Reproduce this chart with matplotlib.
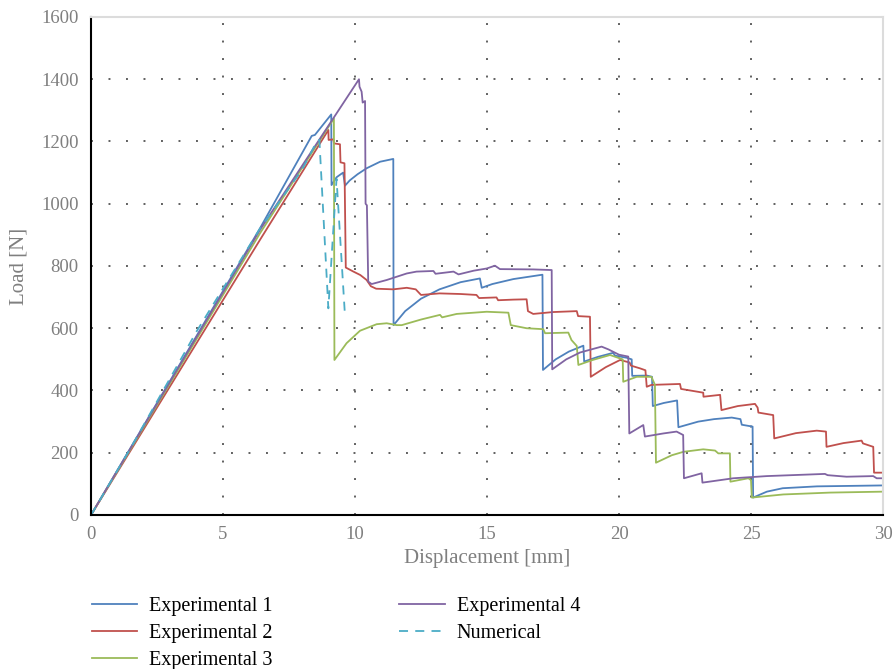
import matplotlib
matplotlib.use("Agg")
import matplotlib.pyplot as plt

plt.rcParams["font.family"] = ["Liberation Serif", "DejaVu Serif"]

# Experimental 1
exp1_x = [0, 6.4, 8.36, 8.48, 9.1, 9.11, 9.3, 9.43, 9.55, 9.62, 9.8, 10.1, 10.44, 10.95,
          11.45, 11.46, 11.9, 12.5, 13.2, 14.0, 14.73, 14.8, 15.2, 16.0, 17.1, 17.12,
          17.6, 18.1, 18.65, 18.68, 19.2, 19.78, 19.85, 20.3, 20.48, 20.5, 21.05, 21.25,
          21.28, 21.7, 22.2, 22.25, 23.0, 23.6, 24.27, 24.6, 24.65, 25.06, 25.08, 25.6,
          26.2, 27.5, 30]
exp1_y = [0, 921, 1218, 1221, 1287, 1060, 1085, 1093, 1100, 1058, 1075, 1095, 1114, 1135,
          1144, 610, 655, 695, 725, 748, 760, 730, 742, 758, 772, 466,
          500, 525, 544, 493, 508, 521, 512, 505, 500, 447, 448, 444,
          350, 360, 368, 282, 300, 308, 313, 308, 290, 284, 56, 75,
          86, 92, 95]

# Experimental 2
exp2_x = [0, 6.4, 8.99, 9.0, 9.18, 9.2, 9.43, 9.45, 9.6, 9.65, 9.94, 10.2, 10.44, 10.6,
          10.8, 11.45, 11.96, 12.3, 12.5, 13.2, 14.0, 14.6, 14.7, 15.36, 15.42, 16.0,
          16.5, 16.55, 16.75, 17.5, 18.4, 18.45, 18.9, 18.93, 19.5, 20.04, 20.4, 20.45,
          20.8, 21.0, 21.05, 21.23, 22.31, 22.35, 22.56, 23.19, 23.2, 23.83, 23.88, 24.5,
          25.15, 25.25, 25.28, 25.84, 25.88, 26.7, 27.49, 27.84, 27.86, 28.5, 29.19,
          29.24, 29.63, 29.66, 30]
exp2_y = [0, 884, 1237, 1205, 1207, 1194, 1191, 1133, 1130, 795, 782, 771, 755, 735,
          727, 725, 730, 725, 707, 712, 710, 707, 697, 699, 690, 692,
          693, 655, 646, 652, 655, 639, 637, 444, 475, 498, 490, 480,
          471, 465, 412, 418, 421, 405, 402, 393, 380, 386, 337, 350,
          357, 345, 329, 321, 246, 263, 271, 268, 219, 231, 239,
          230, 219, 136, 136]

# Experimental 3
exp3_x = [0, 6.4, 9.2, 9.22, 9.68, 10.19, 10.82, 11.2, 11.58, 11.77, 12.5, 13.22, 13.3,
          13.85, 14.99, 15.81, 15.9, 16.5, 17.13, 17.2, 18.08, 18.2, 18.4, 18.46, 19.0,
          19.66, 20.14, 20.16, 20.67, 21.23, 21.36, 21.4, 22.0, 22.44, 23.19, 23.64,
          23.76, 24.2, 24.22, 24.9, 25.0, 25.03, 26.22, 28.0, 30]
exp3_y = [0, 905, 1274, 498, 552, 592, 613, 616, 610, 610, 628, 643, 635,
          646, 653, 650, 610, 600, 597, 584, 586, 562, 543, 482, 498,
          514, 500, 428, 444, 444, 418, 168, 192, 203, 211, 207,
          198, 198, 107, 118, 112, 56, 66, 72, 75]

# Experimental 4
exp4_x = [0, 6.4, 10.15, 10.17, 10.25, 10.29, 10.38, 10.4, 10.45, 10.5, 10.63, 11.2,
          11.96, 12.33, 12.97, 13.05, 13.73, 13.92, 14.5, 14.99, 15.3, 15.49, 16.75,
          17.45, 17.47, 18.0, 18.52, 19.34, 19.6, 20.0, 20.35, 20.39, 20.92, 20.98,
          21.68, 22.18, 22.43, 22.46, 23.13, 23.16, 24.33, 25.6, 27.8, 27.9, 28.62,
          29.63, 29.76, 30]
exp4_y = [0, 916, 1400, 1376, 1360, 1325, 1330, 1000, 995, 750, 742, 755,
          776, 782, 784, 775, 782, 773, 785, 792, 801, 790, 789,
          787, 468, 500, 522, 541, 532, 515, 509, 262, 289, 252,
          262, 268, 257, 118, 134, 104, 118, 125, 132, 128, 123,
          125, 118, 118]

# Numerical
num_x = [0, 1.5, 4.0, 6.4, 8.0, 8.55, 8.65, 8.99, 9.3, 9.62]
num_y = [0, 215, 590, 920, 1110, 1200, 1205, 664, 1080, 640]

SERIES = [
    ("Experimental 1", exp1_x, exp1_y, "#4F81BD", "-"),
    ("Experimental 2", exp2_x, exp2_y, "#C0504D", "-"),
    ("Experimental 3", exp3_x, exp3_y, "#9BBB59", "-"),
    ("Experimental 4", exp4_x, exp4_y, "#8064A2", "-"),
    ("Numerical", num_x, num_y, "#4BACC6", (0, (5, 4))),
]

GREY = "#7f7f7f"

fig = plt.figure(figsize=(8.95, 6.69), dpi=100)
ax = fig.add_axes([0.1017, 0.2302, 0.8849, 0.7444])

for label, xs, ys, color, ls in SERIES:
    ax.plot(xs, ys, color=color, lw=1.3, ls=ls, label=label)

ax.set_xlim(0, 30)
ax.set_ylim(0, 1600)
ax.set_xticks(range(0, 31, 5))
ax.set_yticks(range(0, 1601, 200))

# dotted grid, not on the frame edges
for gx in range(5, 30, 5):
    ax.axvline(gx, color="#606060", lw=1.4, ls=(0, (1, 8)), zorder=0)
for gy in range(200, 1600, 200):
    ax.axhline(gy, color="#606060", lw=1.4, ls=(0, (1, 8)), zorder=0)

for side in ["left", "bottom"]:
    ax.spines[side].set_color("black")
    ax.spines[side].set_linewidth(1.5)
for side in ["top", "right"]:
    ax.spines[side].set_color("#dcdcdc")
    ax.spines[side].set_linewidth(1.5)

ax.tick_params(length=0, labelsize=13.5, labelcolor=GREY)
ax.tick_params(axis="x", pad=8)
ax.tick_params(axis="y", pad=9)
ax.set_xlabel("Displacement [mm]", fontsize=15, color=GREY, labelpad=4)
ax.set_ylabel("Load [N]", fontsize=15, color=GREY, labelpad=9)

fig.legend(loc="upper left", bbox_to_anchor=(0.082, 0.1353), ncol=2, frameon=False,
           fontsize=14.5, handlelength=2.25, handletextpad=0.6, columnspacing=6.3,
           labelspacing=0.39)

fig.savefig("out.png", dpi=100)
